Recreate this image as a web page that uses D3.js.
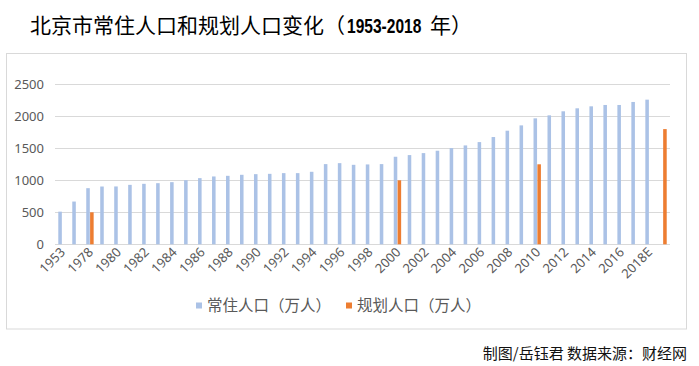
<!DOCTYPE html>
<html><head><meta charset="utf-8">
<script src="https://cdn.jsdelivr.net/npm/d3@7"></script>
<style>body{margin:0;background:#fff}</style>
</head><body>
<svg id="c" width="699" height="366"></svg>
<script>
const categories = ["1953","1964","1978","1979","1980","1981","1982","1983","1984","1985","1986","1987","1988","1989","1990","1991","1992","1993","1994","1995","1996","1997","1998","1999","2000","2001","2002","2003","2004","2005","2006","2007","2008","2009","2010","2011","2012","2013","2014","2015","2016","2017","2018E","2020"];
const resident = [510,668,877,903,904,929,945,955,971,1002,1034,1060,1070,1086,1096,1101,1112,1112,1133,1253,1268,1242,1248,1253,1368,1394,1425,1462,1503,1545,1597,1676,1775,1858,1968,2015,2078,2125,2156,2177,2177,2224,2260,null];
const planned = [null,null,500,null,null,null,null,null,null,null,null,null,null,null,null,null,null,null,null,null,null,null,null,null,1000,null,null,null,null,null,null,null,null,null,1250,null,null,null,null,null,null,null,null,1800];
const yTicks = [0,500,1000,1500,2000,2500];
const seriesNames = ["常住人口（万人）","规划人口（万人）"];
const colors = ["#abc2e6","#ed7d31"];

const svg = d3.select("#c");
const font = "'Noto Sans','Noto Sans CJK SC',sans-serif";
const cjk = "'Noto Sans CJK SC',sans-serif";

// chart border
svg.append("rect").attr("x",6.5).attr("y",53.5).attr("width",680).attr("height",275.5)
  .attr("fill","none").attr("stroke","#d9d9d9");

// title (three pieces)
svg.append("text").attr("x",30).attr("y",33).attr("font-size",21).attr("font-family",cjk)
  .attr("fill","#000").text("北京市常住人口和规划人口变化（");
svg.append("text").attr("transform","translate(347,33) scale(0.74,1)").attr("font-size",21)
  .attr("font-family","'Liberation Sans',sans-serif").attr("font-weight","bold")
  .attr("fill","#000").text("1953-2018");
svg.append("text").attr("x",430).attr("y",33).attr("font-size",21).attr("font-family",cjk)
  .attr("fill","#000").text("年）");

const x = d3.scaleBand().domain(categories).range([55,670]).padding(0);
const y = d3.scaleLinear().domain([0,2500]).range([244.3,84.3]);
const x1 = d3.scaleBand().domain([0,1])
  .range([x.bandwidth()/2-3.7, x.bandwidth()/2+3.7]).paddingInner(0.08);

// gridlines
svg.append("g").selectAll("line").data(yTicks).join("line")
  .attr("x1",55).attr("x2",670).attr("y1",d=>Math.round(y(d))+0.5).attr("y2",d=>Math.round(y(d))+0.5)
  .attr("stroke","#d9d9d9").attr("stroke-width",1);

// y labels
svg.append("g").selectAll("text").data(yTicks).join("text")
  .attr("x",44).attr("y",d=>y(d)).attr("dy","0.35em").attr("text-anchor","end")
  .attr("font-size",13).attr("font-family",font).attr("fill","#595959").text(d=>d);

// bars
const series = [resident, planned];
series.forEach((vals,si)=>{
  svg.append("g").selectAll("rect").data(categories.map((c,i)=>({c,v:vals[i]})).filter(d=>d.v!=null))
    .join("rect")
    .attr("x",d=>x(d.c)+x1(si)).attr("width",x1.bandwidth())
    .attr("y",d=>y(d.v)).attr("height",d=>y(0)-y(d.v))
    .attr("fill",colors[si]);
});

// x labels (every other)
svg.append("g").selectAll("text").data(categories.filter((c,i)=>i%2===0)).join("text")
  .attr("transform",d=>`translate(${x(d)+x.bandwidth()/2+4},253) rotate(-45)`)
  .attr("text-anchor","end").attr("font-size",13).attr("font-family",font).attr("fill","#595959")
  .text(d=>d);

// legend
const leg = svg.append("g");
const legX = [196,346];
seriesNames.forEach((n,i)=>{
  leg.append("rect").attr("x",legX[i]).attr("y",302.5).attr("width",6).attr("height",6).attr("fill",colors[i]);
  leg.append("text").attr("x",legX[i]+11).attr("y",311).attr("font-size",15.5)
    .attr("font-family",cjk).attr("fill","#595959").text(n);
});

// footer
svg.append("text").attr("x",687).attr("y",359).attr("text-anchor","end").attr("font-size",15)
  .attr("font-family",cjk).attr("fill","#111").text("制图/岳钰君 数据来源：财经网");
</script>
</body></html>
